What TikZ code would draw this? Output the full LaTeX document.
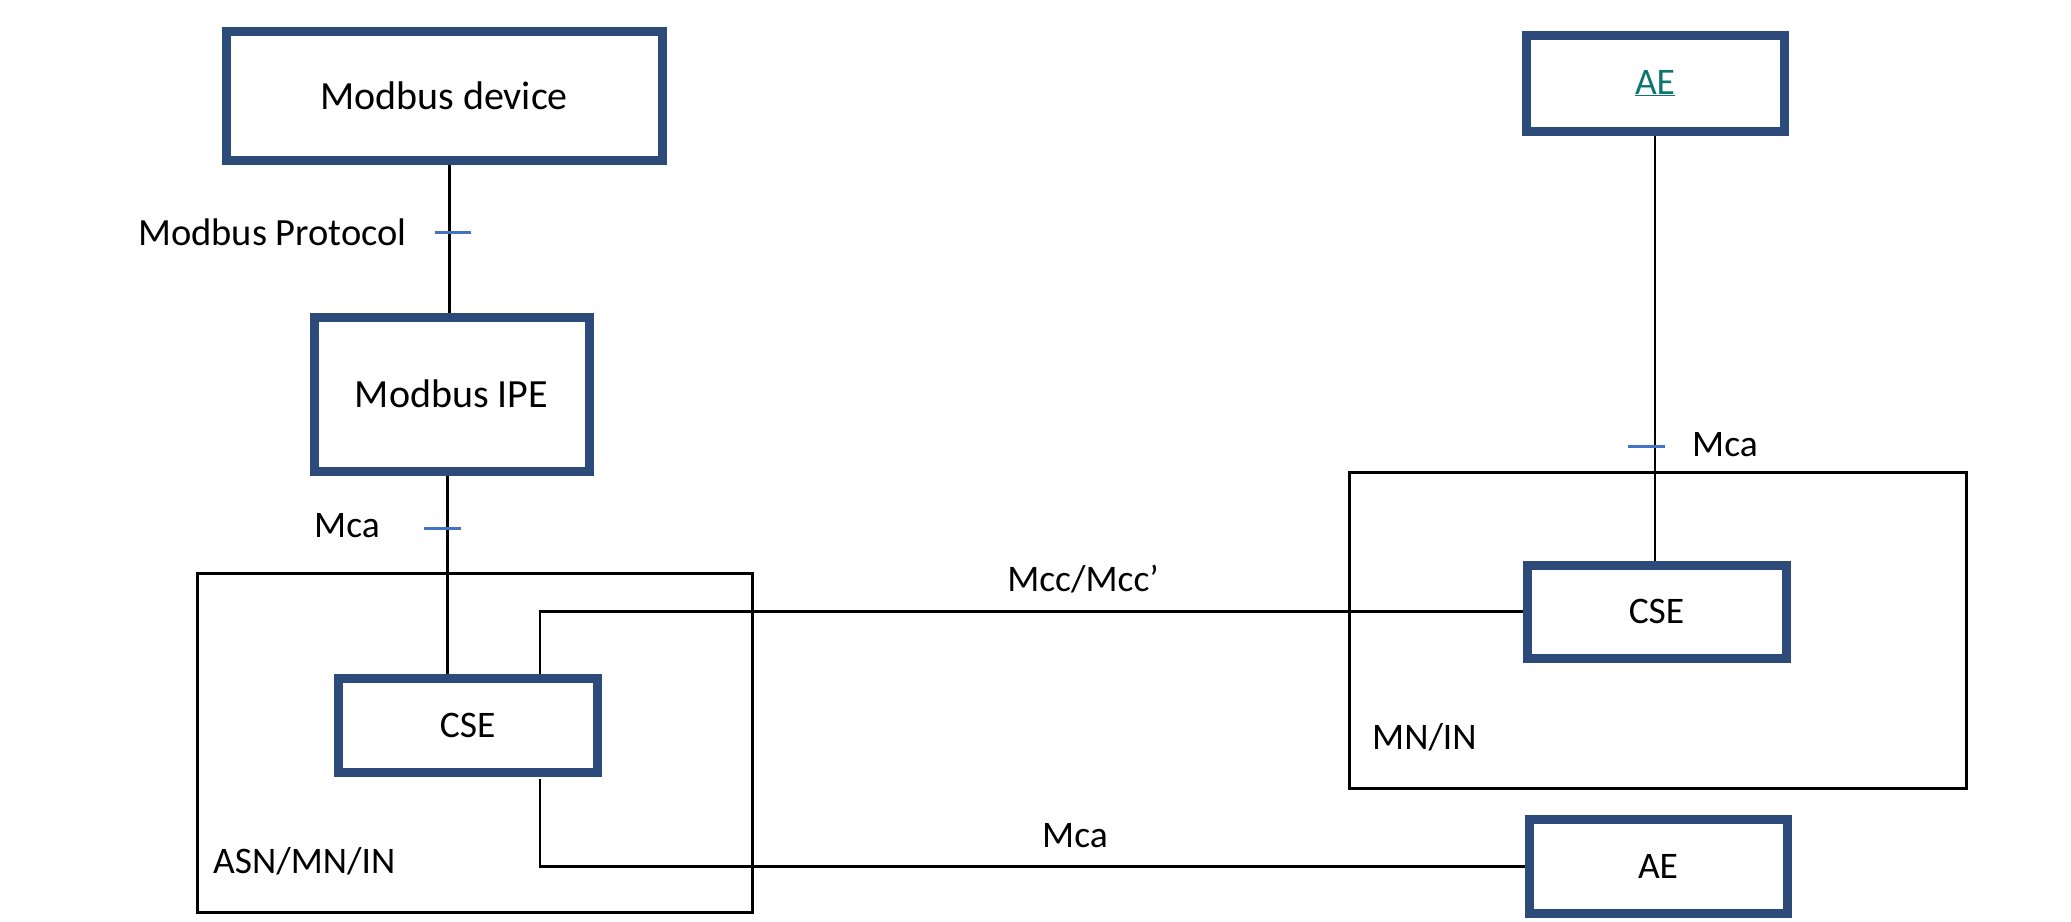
\documentclass[tikz,border=0pt]{standalone}
\usepackage{fontspec}
\setmainfont{Carlito}
\definecolor{boxblue}{RGB}{44,74,122}
\definecolor{tickblue}{RGB}{68,114,196}
\definecolor{aeteal}{RGB}{14,117,111}
\pgfdeclarelayer{bg}
\pgfsetlayers{bg,main}
\tikzset{
  bigfont/.style={font=\fontsize{40}{48}\selectfont},
  midfont/.style={font=\fontsize{38.5}{46}\selectfont},
  smallfont/.style={font=\fontsize{37.5}{45}\selectfont},
  bluebox/.style={draw=boxblue, line width=9pt, fill=white, inner sep=0pt, smallfont},
  region/.style={draw=black, line width=3pt, inner sep=0pt},
  conn/.style={draw=black, line width=2.8pt},
  tickmark/.style={draw=tickblue, line width=3pt},
  lbl/.style={inner sep=0pt, smallfont}
}
\begin{document}
\begin{tikzpicture}[x=1pt,y=-1pt]
\useasboundingbox (0,0) rectangle (2071,921);
% regions
\node[region, minimum width=555pt, minimum height=339pt] (asn) at (474.5,742.5) {};
\node[region, minimum width=617pt, minimum height=316pt] (mnin) at (1657.5,630) {};
% boxes
\node[bluebox, bigfont, minimum width=436pt, minimum height=129pt] (dev) at (444,95.5) {Modbus device};
\node[bluebox, bigfont, minimum width=275pt, minimum height=154pt] (ipe) at (451.5,394) {Modbus IPE};
\node[bluebox, minimum width=258.5pt, minimum height=94pt] (cseL) at (467.75,725) {CSE};
\node[bluebox, minimum width=259pt, minimum height=92.5pt] (cseR) at (1656.5,611.75) {CSE};
\node[bluebox, minimum width=258pt, minimum height=94pt] (aeB) at (1658,866.4) {AE};
\node[bluebox, minimum width=258pt, minimum height=96pt, text=aeteal] (aeT) at (1655,83) {\underline{AE}};
% connectors (behind the boxes)
\begin{pgfonlayer}{bg}
\draw[conn] ([xshift=-2pt]ipe.north) -- ([xshift=-2pt]ipe.north |- dev.south);
\draw[conn] ([xshift=-4pt]ipe.south) -- ([xshift=-4pt]ipe.south |- cseL.north);
\draw[conn] ([xshift=72.25pt]cseL.north) |- (cseR.west);
\draw[conn] ([xshift=72.25pt,yshift=-2pt]cseL.south) |- (aeB.west);
\draw[conn] (aeT.south) -- (aeT.south |- cseR.north);
\end{pgfonlayer}
% ticks
\draw[tickmark] (434.7,232.3) -- (471.4,232.3);
\draw[tickmark] (423.5,528.4) -- (460.7,528.4);
\draw[tickmark] (1628,446.5) -- (1665,446.5);
% labels
\node[lbl, midfont, anchor=base west] (lproto) at (138,245) {Modbus Protocol};
\node[lbl, anchor=base west] (lmca) at (314,537) {Mca};
\node[lbl, anchor=base west] (rmca) at (1692,456) {Mca};
\node[lbl, anchor=base] (mcc) at (1083,591) {Mcc/Mcc’};
\node[lbl, anchor=base] (bmca) at (1075,847) {Mca};
\node[lbl, anchor=base west] (asnl) at (213,873) {ASN/MN/IN};
\node[lbl, anchor=base west] (mnl) at (1372,749) {MN/IN};
\end{tikzpicture}
\end{document}
